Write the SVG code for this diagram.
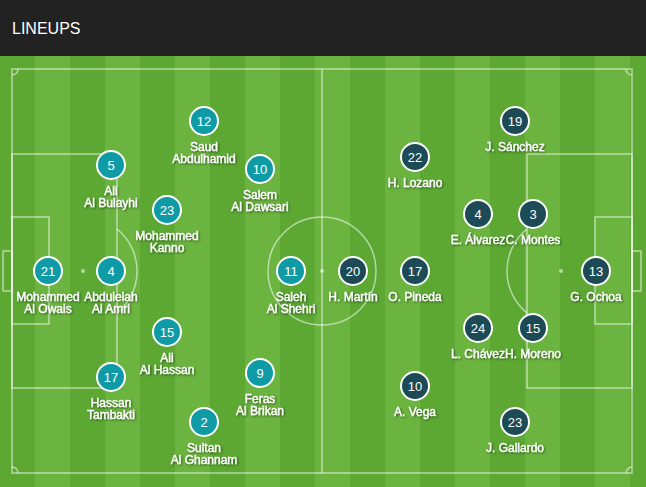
<svg xmlns="http://www.w3.org/2000/svg" width="646" height="487" viewBox="0 0 646 487">
<defs>
<pattern id="stripes" x="0" y="0" width="70" height="487" patternUnits="userSpaceOnUse">
<rect x="0" y="0" width="35" height="487" fill="#5ca833"/>
<rect x="35" y="0" width="35" height="487" fill="#6bb43f"/>
</pattern>
<filter id="sh" x="-20%" y="-40%" width="140%" height="180%">
<feDropShadow dx="1" dy="1" stdDeviation="0.8" flood-color="#000" flood-opacity="0.55"/>
</filter>
</defs>
<style>
.ln{fill:none;stroke:#ffffff;stroke-opacity:0.55;stroke-width:1.5}
.spot{fill:#ffffff;fill-opacity:0.55}
.sa{fill:#0f9ba6;stroke:#ffffff;stroke-width:2}
.mx{fill:#1c4a55;stroke:#ffffff;stroke-width:2}
.num{font-family:"Liberation Sans",Arial,sans-serif;font-size:13px;fill:#ffffff;text-anchor:middle}
.nm{font-family:"Liberation Sans",Arial,sans-serif;font-size:12px;fill:#ffffff;text-anchor:middle;stroke:#ffffff;stroke-width:0.35;filter:url(#sh)}
</style>
<rect x="0" y="0" width="646" height="56" fill="#222222"/>
<text x="12" y="34" font-family="Liberation Sans,Arial,sans-serif" font-size="16" fill="#ffffff">LINEUPS</text>
<rect x="0" y="56" width="646" height="431" fill="url(#stripes)"/>
<g id="pitch">
<rect class="ln" x="12" y="69" width="620" height="404"/>
<line class="ln" x1="322" y1="69" x2="322" y2="473"/>
<circle class="ln" cx="322" cy="271" r="54"/>
<circle class="spot" cx="322" cy="271" r="2"/>
<rect class="ln" x="12" y="154" width="105" height="234"/>
<rect class="ln" x="12" y="217" width="37" height="107"/>
<rect class="ln" x="3" y="251" width="9" height="40"/>
<circle class="spot" cx="83" cy="271" r="2"/>
<path class="ln" d="M117,229 A54,54 0 0 1 117,313"/>
<rect class="ln" x="527" y="154" width="105" height="234"/>
<rect class="ln" x="595" y="217" width="37" height="107"/>
<rect class="ln" x="632" y="251" width="9" height="40"/>
<circle class="spot" cx="561" cy="271" r="2"/>
<path class="ln" d="M527,229 A54,54 0 0 0 527,313"/>
<path class="ln" d="M12,75 A6,6 0 0 0 18,69"/>
<path class="ln" d="M626,69 A6,6 0 0 0 632,75"/>
<path class="ln" d="M12,467 A6,6 0 0 1 18,473"/>
<path class="ln" d="M626,473 A6,6 0 0 1 632,467"/>
</g>
<g id="connectors"></g>
<g id="sa21"><circle class="sa" cx="48" cy="271" r="14"/><text class="num" x="48" y="275.5">21</text><text class="nm" x="48" y="301">Mohammed</text><text class="nm" x="48" y="313">Al Owais</text></g>
<g id="sa4"><circle class="sa" cx="111" cy="271" r="14"/><text class="num" x="111" y="275.5">4</text><text class="nm" x="111" y="301">Abdulelah</text><text class="nm" x="111" y="313">Al Amri</text></g>
<g id="sa5"><circle class="sa" cx="111" cy="165" r="14"/><text class="num" x="111" y="169.5">5</text><text class="nm" x="111" y="195">Ali</text><text class="nm" x="111" y="207">Al Bulayhi</text></g>
<g id="sa17"><circle class="sa" cx="111" cy="377" r="14"/><text class="num" x="111" y="381.5">17</text><text class="nm" x="111" y="407">Hassan</text><text class="nm" x="111" y="419">Tambakti</text></g>
<g id="sa23"><circle class="sa" cx="167" cy="210" r="14"/><text class="num" x="167" y="214.5">23</text><text class="nm" x="167" y="240">Mohammed</text><text class="nm" x="167" y="252">Kanno</text></g>
<g id="sa15"><circle class="sa" cx="167" cy="332" r="14"/><text class="num" x="167" y="336.5">15</text><text class="nm" x="167" y="362">Ali</text><text class="nm" x="167" y="374">Al Hassan</text></g>
<g id="sa12"><circle class="sa" cx="204" cy="121" r="14"/><text class="num" x="204" y="125.5">12</text><text class="nm" x="204" y="151">Saud</text><text class="nm" x="204" y="163">Abdulhamid</text></g>
<g id="sa10"><circle class="sa" cx="260" cy="169" r="14"/><text class="num" x="260" y="173.5">10</text><text class="nm" x="260" y="199">Salem</text><text class="nm" x="260" y="211">Al Dawsari</text></g>
<g id="sa2"><circle class="sa" cx="204" cy="422" r="14"/><text class="num" x="204" y="426.5">2</text><text class="nm" x="204" y="452">Sultan</text><text class="nm" x="204" y="464">Al Ghannam</text></g>
<g id="sa9"><circle class="sa" cx="260" cy="373" r="14"/><text class="num" x="260" y="377.5">9</text><text class="nm" x="260" y="403">Feras</text><text class="nm" x="260" y="415">Al Brikan</text></g>
<g id="sa11"><circle class="sa" cx="291" cy="271" r="14"/><text class="num" x="291" y="275.5">11</text><text class="nm" x="291" y="301">Saleh</text><text class="nm" x="291" y="313">Al Shehri</text></g>
<g id="mx20"><circle class="mx" cx="353" cy="271" r="14"/><text class="num" x="353" y="275.5">20</text><text class="nm" x="353" y="301">H. Martín</text></g>
<g id="mx17"><circle class="mx" cx="415" cy="271" r="14"/><text class="num" x="415" y="275.5">17</text><text class="nm" x="415" y="301">O. Pineda</text></g>
<g id="mx22"><circle class="mx" cx="415" cy="157" r="14"/><text class="num" x="415" y="161.5">22</text><text class="nm" x="415" y="187">H. Lozano</text></g>
<g id="mx19"><circle class="mx" cx="515" cy="121" r="14"/><text class="num" x="515" y="125.5">19</text><text class="nm" x="515" y="151">J. Sánchez</text></g>
<g id="mx4"><circle class="mx" cx="478" cy="214" r="14"/><text class="num" x="478" y="218.5">4</text><text class="nm" x="478" y="244">E. Álvarez</text></g>
<g id="mx3"><circle class="mx" cx="533" cy="214" r="14"/><text class="num" x="533" y="218.5">3</text><text class="nm" x="533" y="244">C. Montes</text></g>
<g id="mx13"><circle class="mx" cx="596" cy="271" r="14"/><text class="num" x="596" y="275.5">13</text><text class="nm" x="596" y="301">G. Ochoa</text></g>
<g id="mx24"><circle class="mx" cx="478" cy="328" r="14"/><text class="num" x="478" y="332.5">24</text><text class="nm" x="478" y="358">L. Chávez</text></g>
<g id="mx15"><circle class="mx" cx="533" cy="328" r="14"/><text class="num" x="533" y="332.5">15</text><text class="nm" x="533" y="358">H. Moreno</text></g>
<g id="mx10"><circle class="mx" cx="415" cy="386" r="14"/><text class="num" x="415" y="390.5">10</text><text class="nm" x="415" y="416">A. Vega</text></g>
<g id="mx23"><circle class="mx" cx="515" cy="422" r="14"/><text class="num" x="515" y="426.5">23</text><text class="nm" x="515" y="452">J. Gallardo</text></g>
</svg>
